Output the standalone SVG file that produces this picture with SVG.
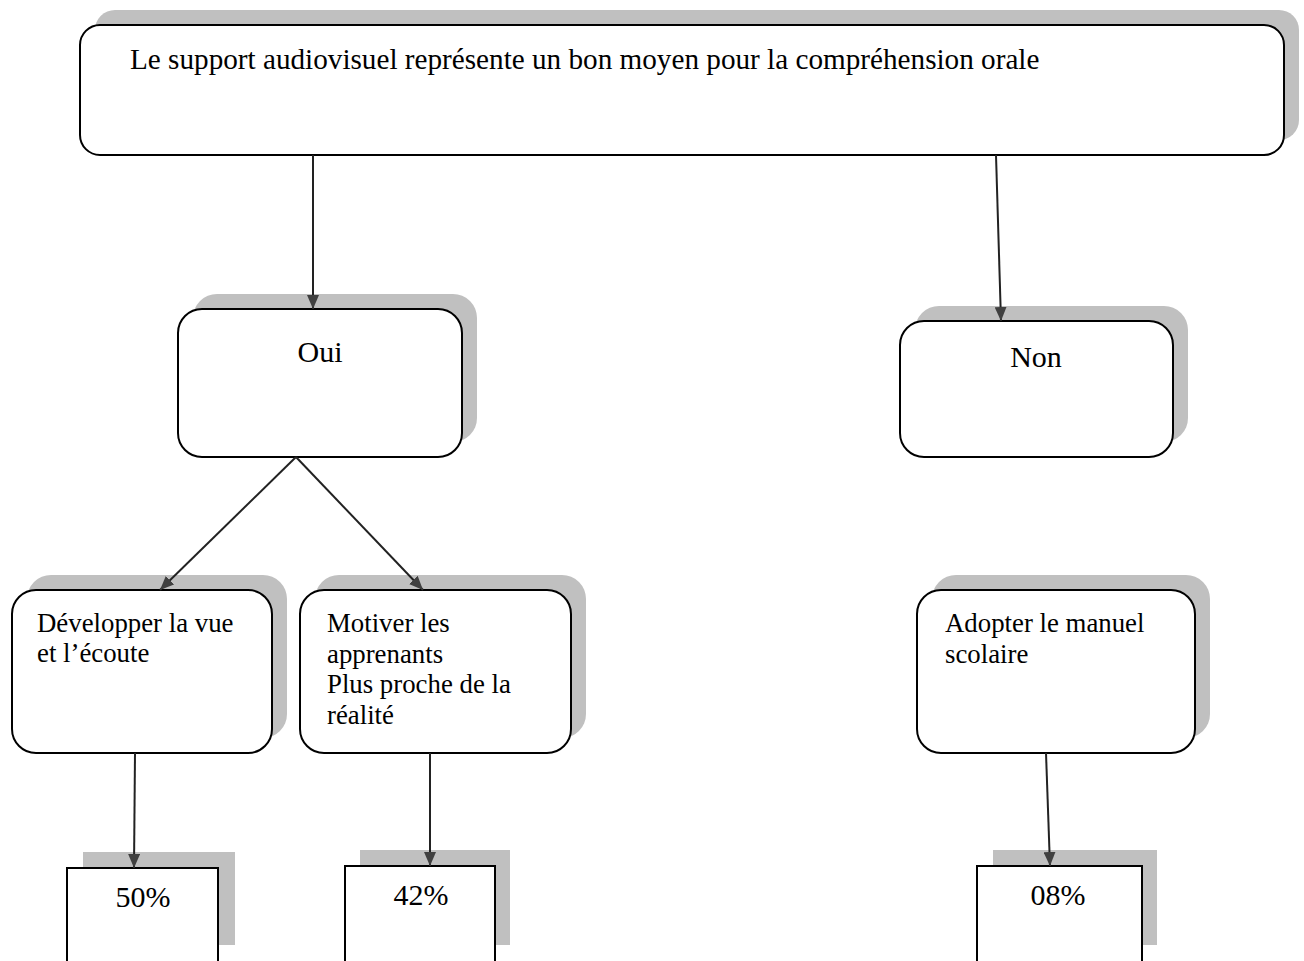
<svg xmlns="http://www.w3.org/2000/svg" width="1304" height="961" viewBox="0 0 1304 961">
<defs>
<marker id="arr" viewBox="0 0 14 12" refX="14" refY="6" markerWidth="14" markerHeight="12" markerUnits="userSpaceOnUse" orient="auto">
<path d="M0,0 L14,6 L0,12 z" fill="#404040"/>
</marker>
<style>
.sh{fill:#c0c0c0;stroke:none}
.bx{fill:#fff;stroke:#000;stroke-width:2}
.lg{font-family:"Liberation Serif","Times New Roman",serif;font-size:30px;fill:#000}
.tp{font-family:"Liberation Serif","Times New Roman",serif;font-size:29.2px;fill:#000}
.sm{font-family:"Liberation Serif","Times New Roman",serif;font-size:26.8px;fill:#000}
.cn{stroke:#222;stroke-width:2;fill:none;marker-end:url(#arr)}
</style>
</defs>
<rect width="1304" height="961" fill="#fff"/>
<g id="top">
<rect class="sh" x="95" y="10" width="1204" height="130" rx="20"/>
<rect class="bx" x="80" y="25" width="1204" height="130" rx="20"/>
<text class="tp" x="130" y="69">Le support audiovisuel représente un bon moyen pour la compréhension orale</text>
</g>
<g id="oui">
<rect class="sh" x="193" y="294" width="284" height="148" rx="24"/>
<rect class="bx" x="178" y="309" width="284" height="148" rx="24"/>
<text class="lg" x="320" y="362" text-anchor="middle">Oui</text>
</g>
<g id="non">
<rect class="sh" x="915" y="306" width="273" height="136" rx="24"/>
<rect class="bx" x="900" y="321" width="273" height="136" rx="24"/>
<text class="lg" x="1036" y="367" text-anchor="middle">Non</text>
</g>
<g id="developper">
<rect class="sh" x="27" y="575" width="260" height="163" rx="24"/>
<rect class="bx" x="12" y="590" width="260" height="163" rx="24"/>
<text class="sm" x="37" y="632">Développer la vue</text>
<text class="sm" x="37" y="662">et l’écoute</text>
</g>
<g id="motiver">
<rect class="sh" x="315" y="575" width="271" height="163" rx="24"/>
<rect class="bx" x="300" y="590" width="271" height="163" rx="24"/>
<text class="sm" x="327" y="632">Motiver les</text>
<text class="sm" x="327" y="662.5">apprenants</text>
<text class="sm" x="327" y="693">Plus proche de la</text>
<text class="sm" x="327" y="723.5">réalité</text>
</g>
<g id="adopter">
<rect class="sh" x="932" y="575" width="278" height="163" rx="24"/>
<rect class="bx" x="917" y="590" width="278" height="163" rx="24"/>
<text class="sm" x="945" y="632">Adopter le manuel</text>
<text class="sm" x="945" y="662.5">scolaire</text>
</g>
<g id="p50">
<rect class="sh" x="83" y="852" width="152" height="93"/>
<rect class="bx" x="67" y="868" width="151" height="110"/>
<text class="lg" x="143" y="907" text-anchor="middle">50%</text>
</g>
<g id="p42">
<rect class="sh" x="360" y="850" width="150" height="95"/>
<rect class="bx" x="345" y="866" width="150" height="110"/>
<text class="lg" x="421" y="905" text-anchor="middle">42%</text>
</g>
<g id="p08">
<rect class="sh" x="993" y="850" width="164" height="95"/>
<rect class="bx" x="977" y="866" width="165" height="110"/>
<text class="lg" x="1058" y="905" text-anchor="middle">08%</text>
</g>
<g id="connectors">
<line class="cn" x1="313" y1="155" x2="313" y2="309"/>
<line class="cn" x1="996" y1="155" x2="1001" y2="321"/>
<line class="cn" x1="296" y1="457" x2="160" y2="590"/>
<line class="cn" x1="296" y1="457" x2="423" y2="590"/>
<line class="cn" x1="135" y1="753" x2="134" y2="868"/>
<line class="cn" x1="430" y1="753" x2="430" y2="866"/>
<line class="cn" x1="1046" y1="753" x2="1050" y2="866"/>
</g>
</svg>
